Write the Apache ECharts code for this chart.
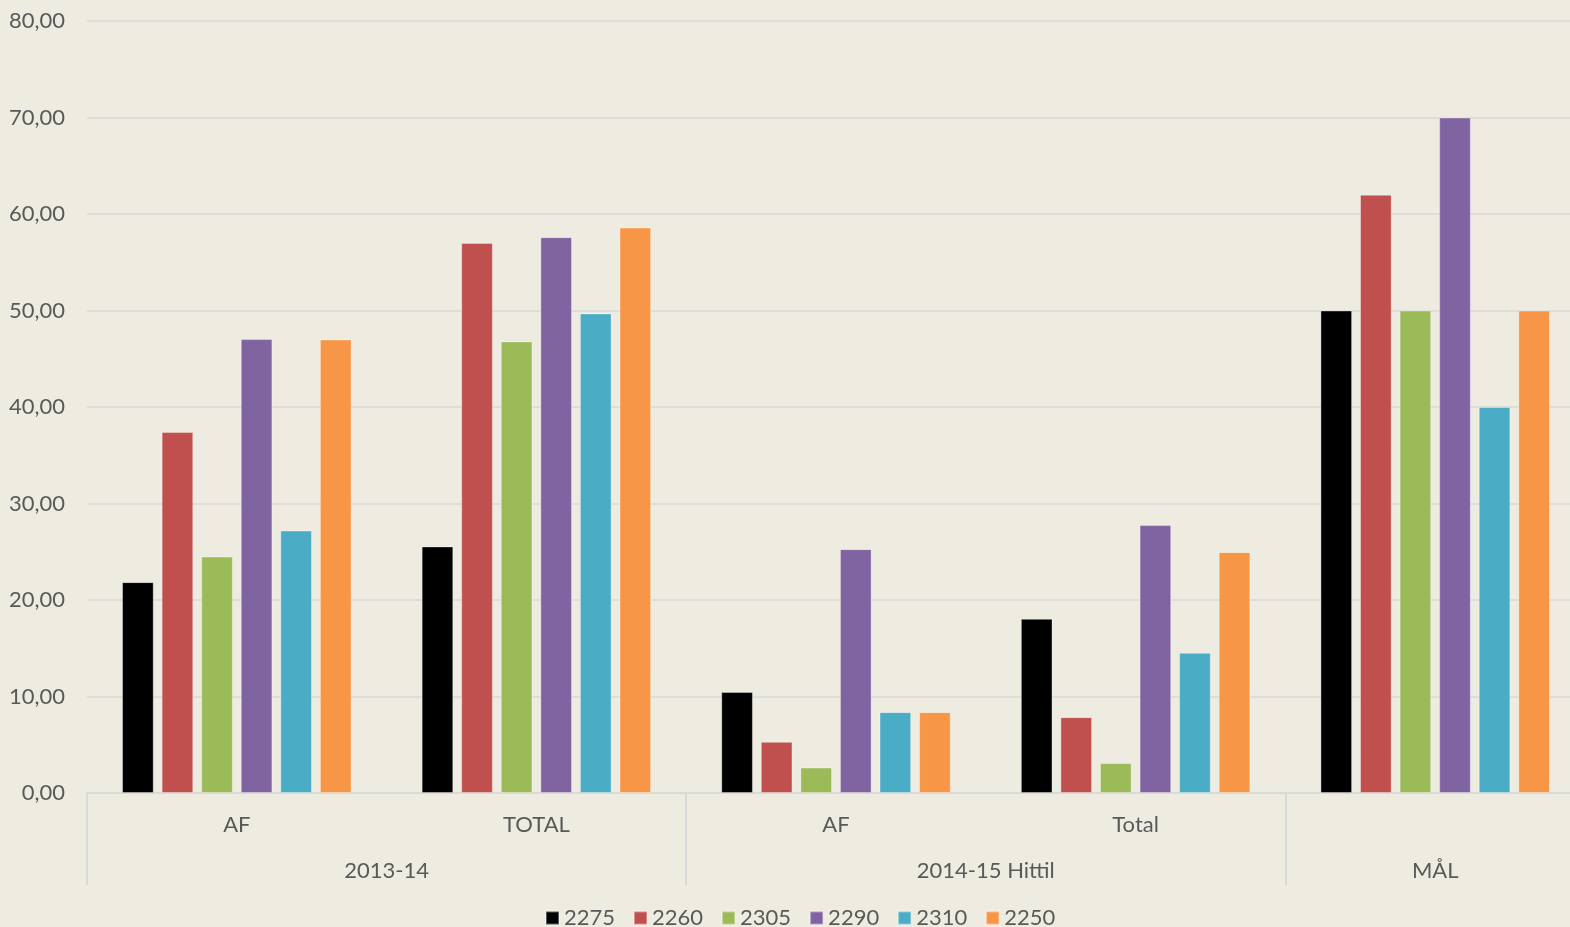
<!DOCTYPE html>
<html>
<head>
<meta charset="utf-8">
<script src="https://cdn.jsdelivr.net/npm/echarts@6/dist/echarts.min.js"></script>
<style>
  html, body { margin: 0; padding: 0; background: #eeece1; }
  #chart { width: 1570px; height: 927px; }
</style>
</head>
<body>
<div id="chart"></div>
<script>
// categories (inner level) and outer groups
const categories = ['AF', 'TOTAL', 'AF', 'Total', ''];
const groups = ['2013-14', '2014-15 Hittil', 'MÅL'];
const groupSizes = [2, 2, 1];

const seriesNames = ['2275', '2260', '2305', '2290', '2310', '2250'];
const colors = ['#000000', '#c0504d', '#9bbb59', '#8064a2', '#4bacc6', '#f79646'];

// values
const v2275 = [21.85, 25.55, 10.46, 18.05, 50];
const v2260 = [37.4, 57.0, 5.3, 7.86, 62];
const v2305 = [24.5, 46.8, 2.64, 3.1, 50];
const v2290 = [47.04, 57.6, 25.27, 27.76, 70];
const v2310 = [27.2, 49.7, 8.38, 14.53, 40];
const v2250 = [47.0, 58.6, 8.38, 24.96, 50];
const values = [v2275, v2260, v2305, v2290, v2310, v2250];

// group boundaries and centers along the category range
let bounds = [0];
let centers = [];
for (let i = 0; i < groupSizes.length; i++) {
    let start = bounds[bounds.length - 1];
    bounds.push(start + groupSizes[i]);
    centers.push(start + groupSizes[i] / 2);
}
const total = bounds[bounds.length - 1];

const font = 'Lato, "Open Sans", sans-serif';
const textColor = '#595959';
const lineColor = '#d9d9d9';

let chart = echarts.init(document.getElementById('chart'));
chart.setOption({
    animation: false,
    backgroundColor: '#eeece1',
    color: colors,
    textStyle: { fontFamily: font },
    grid: {
        left: 87,
        right: -15,
        top: 21,
        bottom: 134,
        outerBoundsMode: 'none'
    },
    legend: {
        data: seriesNames,
        left: 545,
        top: 907,
        padding: 0,
        icon: 'rect',
        itemWidth: 13,
        itemHeight: 13,
        itemGap: 18,
        textStyle: { fontSize: 22, color: textColor, fontFamily: font }
    },
    yAxis: {
        type: 'value',
        min: 0,
        max: 80,
        interval: 10,
        axisLine: { show: false },
        axisTick: { show: false },
        axisLabel: {
            fontSize: 22,
            color: textColor,
            margin: 22,
            formatter: function (v) { return v.toFixed(2).replace('.', ','); }
        },
        splitLine: { lineStyle: { color: lineColor, width: 1.5 } }
    },
    xAxis: [
        {
            type: 'category',
            data: categories,
            position: 'bottom',
            axisLine: { lineStyle: { color: lineColor, width: 1.5 } },
            axisTick: { show: false },
            axisLabel: { fontSize: 22, color: textColor, margin: 21 }
        },
        {
            type: 'value',
            min: 0,
            max: total,
            position: 'bottom',
            axisLine: { show: false },
            splitLine: { show: false },
            axisTick: {
                show: true,
                customValues: bounds,
                length: 92,
                lineStyle: { color: lineColor, width: 2 }
            },
            axisLabel: {
                customValues: centers,
                fontSize: 22,
                color: textColor,
                margin: 67,
                formatter: function (v) {
                    return groups[centers.indexOf(v)];
                }
            }
        }
    ],
    series: seriesNames.map(function (name, i) {
        return {
            name: name,
            type: 'bar',
            xAxisIndex: 0,
            data: values[i],
            barGap: '25%',
            barCategoryGap: '23.4%',
            itemStyle: { borderColor: 'rgba(255,255,255,0.35)', borderWidth: 1 }
        };
    })
});
</script>
</body>
</html>
